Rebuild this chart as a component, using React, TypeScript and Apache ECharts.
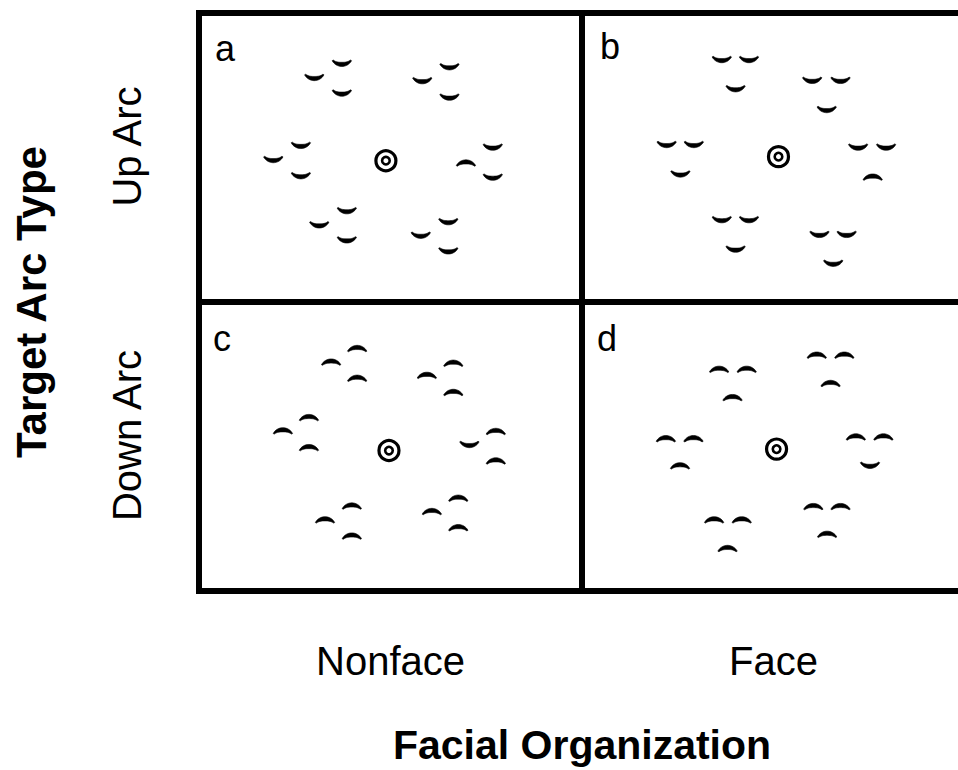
import React, { useEffect, useRef } from "react";
import * as echarts from "echarts";

// Column / row categories
const colCategories = ["Nonface", "Face"];
const rowCategories = ["Up Arc", "Down Arc"];
const xTitle = "Facial Organization";
const yTitle = "Target Arc Type";

// Panel letters and their local positions (0-100 inside each panel)
const panelLetters = ["a", "b", "c", "d"];
const letterPos = [
  [6.8, 12.4],
  [7.3, 11.7],
  [6.0, 12.8],
  [6.5, 12.8],
];

// Stimulus elements per panel: [x, y, kind] in local panel units (0-100)
// kind: U = up arc (⌣), D = down arc (⌢), T = target
const panelA: [number, number, string][] = [
  [37.3, 17.5, "U"], [30.1, 22.4, "U"], [37.3, 27.8, "U"],
  [65.4, 18.7, "U"], [58.3, 23.5, "U"], [65.4, 29.2, "U"],
  [26.6, 45.9, "U"], [19.4, 50.8, "U"], [26.6, 56.4, "U"],
  [48.8, 51.1, "T"],
  [69.7, 51.8, "D"], [76.7, 46.5, "U"], [76.7, 56.9, "U"],
  [38.6, 68.5, "U"], [31.4, 73.4, "U"], [38.6, 78.6, "U"],
  [65.1, 72.3, "U"], [57.9, 77.0, "U"], [65.1, 82.4, "U"],
];
const panelB: [number, number, string][] = [
  [36.5, 16.2, "U"], [43.6, 16.2, "U"], [40.1, 26.3, "U"],
  [60.1, 23.4, "U"], [67.5, 23.4, "U"], [63.9, 33.5, "U"],
  [22.1, 45.6, "U"], [29.2, 45.6, "U"], [25.7, 55.8, "U"],
  [51.3, 49.7, "T"],
  [72.1, 46.5, "U"], [79.4, 46.5, "U"], [75.9, 56.7, "D"],
  [36.5, 71.6, "U"], [43.6, 71.6, "U"], [40.1, 81.8, "U"],
  [62.0, 76.7, "U"], [69.1, 76.7, "U"], [65.6, 86.7, "U"],
];
const panelC: [number, number, string][] = [
  [41.3, 16.0, "D"], [34.5, 20.7, "D"], [41.3, 26.3, "D"],
  [66.4, 21.1, "D"], [59.5, 25.3, "D"], [66.4, 31.2, "D"],
  [28.7, 39.9, "D"], [21.9, 44.5, "D"], [28.7, 50.3, "D"],
  [49.6, 51.4, "T"],
  [70.6, 49.4, "U"], [77.5, 44.7, "D"], [77.5, 54.9, "D"],
  [39.9, 70.5, "D"], [32.9, 75.3, "D"], [39.9, 80.9, "D"],
  [67.7, 67.8, "D"], [60.8, 72.4, "D"], [67.7, 78.0, "D"],
];
const panelD: [number, number, string][] = [
  [35.8, 23.2, "D"], [43.0, 23.2, "D"], [39.3, 33.0, "D"],
  [61.3, 18.3, "D"], [68.5, 18.3, "D"], [64.9, 28.1, "D"],
  [21.9, 47.2, "D"], [29.1, 47.2, "D"], [25.6, 56.6, "D"],
  [50.8, 50.9, "T"],
  [71.5, 46.6, "D"], [78.7, 46.6, "D"], [75.2, 56.6, "U"],
  [34.5, 75.3, "D"], [41.7, 75.3, "D"], [38.0, 85.2, "D"],
  [60.4, 70.7, "D"], [67.5, 70.7, "D"], [64.0, 80.3, "D"],
];

const panels = [panelA, panelB, panelC, panelD];
const FONT = "'Liberation Sans', Arial, Helvetica, sans-serif";

type Item = { x: number; y: number; kind: string; text?: string };

function buildItems(): Item[] {
  const out: Item[] = [];
  panels.forEach((pts, i) => {
    const ox = (i % 2) * 100;
    const oy = Math.floor(i / 2) * 100;
    pts.forEach(([x, y, k]) => out.push({ x: x + ox, y: y + oy, kind: k }));
    out.push({ x: letterPos[i][0] + ox, y: letterPos[i][1] + oy, kind: "L", text: panelLetters[i] });
  });
  return out;
}

function crescent(cx: number, cy: number, up: boolean): number[][] {
  const R = 11;
  const a = 1.08;
  const t = 4.2;
  const off = (R * (1 + Math.cos(a))) / 2;
  const ccy = up ? cy - off : cy + off;
  const s = up ? 1 : -1;
  const n = 16;
  const pts: number[][] = [];
  for (let i = 0; i <= n; i++) {
    const th = -a + (2 * a * i) / n;
    pts.push([cx + R * Math.sin(th), ccy + s * R * Math.cos(th)]);
  }
  for (let i = n; i >= 0; i--) {
    const th = -a + (2 * a * i) / n;
    const w = 0.3 + 0.7 * Math.cos((th / a) * (Math.PI / 2));
    const r = R - t * w;
    pts.push([cx + r * Math.sin(th), ccy + s * r * Math.cos(th)]);
  }
  return pts;
}

const CHART_W = 1000;

export default function App() {
  const ref = useRef<HTMLDivElement>(null);
  useEffect(() => {
    if (!ref.current) return;
    const chart = echarts.init(ref.current, null, { renderer: "svg" });
    const items = buildItems();
    const option: any = {
      animation: false,
      backgroundColor: "#fff",
      grid: {
        left: 199,
        top: 13,
        right: CHART_W - 965,
        bottom: 178,
        show: true,
        borderColor: "#000",
        borderWidth: 6,
        backgroundColor: "transparent",
      },
      xAxis: [
        {
          type: "value",
          min: 0,
          max: 200,
          interval: 100,
          axisLine: { show: false },
          axisTick: { show: false },
          axisLabel: { show: false },
          splitLine: { show: true, lineStyle: { color: "#000", width: 6 } },
        },
        {
          type: "category",
          data: colCategories,
          position: "bottom",
          offset: 0,
          boundaryGap: true,
          axisLine: { show: false },
          axisTick: { show: false },
          axisLabel: { fontSize: 40, color: "#000", margin: 50, fontFamily: FONT },
          name: xTitle,
          nameLocation: "middle",
          nameGap: 133,
          nameTextStyle: { fontSize: 41, fontWeight: "bold", color: "#000", fontFamily: FONT },
        },
      ],
      yAxis: [
        {
          type: "value",
          min: 0,
          max: 200,
          interval: 100,
          inverse: true,
          axisLine: { show: false },
          axisTick: { show: false },
          axisLabel: { show: false },
          splitLine: { show: true, lineStyle: { color: "#000", width: 6 } },
        },
        {
          type: "category",
          data: rowCategories,
          inverse: true,
          position: "left",
          offset: 0,
          axisLine: { show: false },
          axisTick: { show: false },
          axisLabel: {
            rotate: 90,
            fontSize: 40,
            color: "#000",
            margin: 52,
            fontFamily: FONT,
            padding: [0, 0, 0, 22],
          },
          name: yTitle,
          nameLocation: "middle",
          nameRotate: 90,
          nameGap: 147,
          nameTextStyle: { fontSize: 42, fontWeight: "bold", color: "#000", fontFamily: FONT },
        },
      ],
      series: [
        {
          type: "custom",
          xAxisIndex: 0,
          yAxisIndex: 0,
          clip: false,
          data: items.map((d) => [d.x, d.y]),
          renderItem: (params: any, api: any) => {
            const it = items[params.dataIndex];
            const p = api.coord([it.x, it.y]);
            if (it.kind === "T") {
              return {
                type: "group",
                children: [
                  { type: "circle", shape: { cx: p[0], cy: p[1], r: 10 }, style: { fill: "none", stroke: "#000", lineWidth: 3.2 } },
                  { type: "circle", shape: { cx: p[0], cy: p[1], r: 3.8 }, style: { fill: "none", stroke: "#000", lineWidth: 2.6 } },
                ],
              };
            }
            if (it.kind === "L") {
              return {
                type: "text",
                x: p[0],
                y: p[1],
                style: { text: it.text, fontSize: 36, fontFamily: FONT, fill: "#000", align: "center", verticalAlign: "middle" },
              };
            }
            return {
              type: "polygon",
              shape: { points: crescent(p[0], p[1], it.kind === "U") },
              style: { fill: "#000", stroke: "#000", lineWidth: 0.6 },
            };
          },
        },
      ],
    };
    chart.setOption(option);
    return () => chart.dispose();
  }, []);
  return (
    <div style={{ position: "fixed", left: 0, top: 0, width: 958, height: 770, overflow: "hidden", background: "#fff" }}>
      <div ref={ref} style={{ width: CHART_W, height: 770 }} />
    </div>
  );
}
